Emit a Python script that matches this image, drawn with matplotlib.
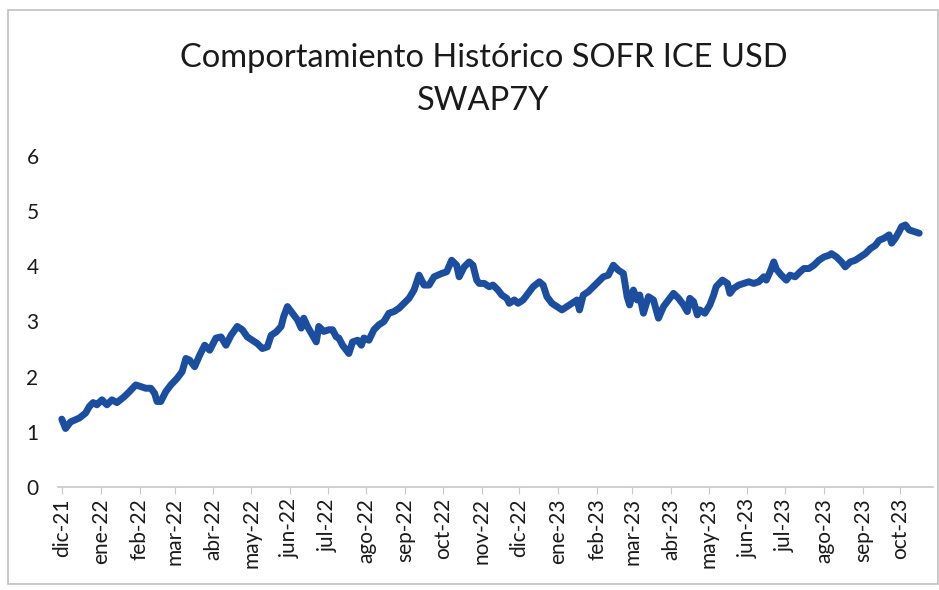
import matplotlib
matplotlib.use("Agg")
import matplotlib.pyplot as plt
import pandas as pd

plt.rcParams['font.family'] = ['Lato', 'DejaVu Sans']

# Valores (fecha, tasa %)
fechas = [
    "2021-12-01", "2021-12-04", "2021-12-08", "2021-12-15", "2021-12-20", "2021-12-23",
    "2021-12-26", "2021-12-29", "2022-01-02", "2022-01-06", "2022-01-10", "2022-01-14",
    "2022-01-20", "2022-01-24", "2022-01-29", "2022-02-02", "2022-02-06", "2022-02-10",
    "2022-02-13", "2022-02-15", "2022-02-18", "2022-02-22", "2022-02-26", "2022-03-03",
    "2022-03-07", "2022-03-10", "2022-03-13", "2022-03-17", "2022-03-21", "2022-03-25",
    "2022-03-29", "2022-04-03", "2022-04-07", "2022-04-11", "2022-04-15", "2022-04-20",
    "2022-04-24", "2022-04-28", "2022-05-02", "2022-05-06", "2022-05-10", "2022-05-14",
    "2022-05-17", "2022-05-21", "2022-05-25", "2022-05-27", "2022-05-30", "2022-06-03",
    "2022-06-07", "2022-06-10", "2022-06-12", "2022-06-15", "2022-06-19", "2022-06-22",
    "2022-06-24", "2022-06-28", "2022-07-02", "2022-07-05", "2022-07-08", "2022-07-10",
    "2022-07-13", "2022-07-16", "2022-07-18", "2022-07-21", "2022-07-25", "2022-07-28",
    "2022-07-30", "2022-08-03", "2022-08-07", "2022-08-11", "2022-08-15", "2022-08-19",
    "2022-08-23", "2022-08-27", "2022-08-31", "2022-09-04", "2022-09-08", "2022-09-12",
    "2022-09-16", "2022-09-20", "2022-09-24", "2022-09-30", "2022-10-04", "2022-10-08",
    "2022-10-12", "2022-10-14", "2022-10-18", "2022-10-22", "2022-10-25", "2022-10-28",
    "2022-10-30", "2022-11-03", "2022-11-07", "2022-11-10", "2022-11-14", "2022-11-17",
    "2022-11-21", "2022-11-23", "2022-11-27", "2022-11-30", "2022-12-04", "2022-12-08",
    "2022-12-12", "2022-12-17", "2022-12-20", "2022-12-23", "2022-12-27", "2022-12-31",
    "2023-01-04", "2023-01-08", "2023-01-12", "2023-01-16", "2023-01-18", "2023-01-21",
    "2023-01-25", "2023-01-29", "2023-02-02", "2023-02-06", "2023-02-10", "2023-02-14",
    "2023-02-18", "2023-02-22", "2023-02-25", "2023-02-27", "2023-03-02", "2023-03-05",
    "2023-03-07", "2023-03-10", "2023-03-14", "2023-03-18", "2023-03-22", "2023-03-26",
    "2023-03-30", "2023-04-03", "2023-04-07", "2023-04-11", "2023-04-14", "2023-04-16",
    "2023-04-19", "2023-04-22", "2023-04-24", "2023-04-28", "2023-05-02", "2023-05-05",
    "2023-05-07", "2023-05-12", "2023-05-16", "2023-05-18", "2023-05-21", "2023-05-25",
    "2023-05-29", "2023-06-02", "2023-06-06", "2023-06-10", "2023-06-14", "2023-06-16",
    "2023-06-19", "2023-06-22", "2023-06-24", "2023-06-28", "2023-07-02", "2023-07-05",
    "2023-07-09", "2023-07-13", "2023-07-16", "2023-07-20", "2023-07-24", "2023-07-28",
    "2023-08-01", "2023-08-05", "2023-08-07", "2023-08-11", "2023-08-15", "2023-08-18",
    "2023-08-22", "2023-08-26", "2023-08-30", "2023-09-03", "2023-09-07", "2023-09-11",
    "2023-09-14", "2023-09-18", "2023-09-22", "2023-09-24", "2023-09-27", "2023-09-30",
    "2023-10-02", "2023-10-05", "2023-10-08", "2023-10-12", "2023-10-16",
]
swap7y = [
    1.23, 1.06, 1.18, 1.25, 1.34, 1.46,
    1.53, 1.49, 1.58, 1.49, 1.58, 1.53,
    1.64, 1.73, 1.85, 1.82, 1.79, 1.79,
    1.70, 1.55, 1.55, 1.73, 1.85, 1.97,
    2.09, 2.33, 2.30, 2.18, 2.39, 2.57,
    2.48, 2.70, 2.72, 2.57, 2.75, 2.91,
    2.85, 2.72, 2.66, 2.60, 2.51, 2.54,
    2.75, 2.81, 2.91, 3.09, 3.27, 3.15,
    3.03, 2.88, 3.06, 2.91, 2.75, 2.63,
    2.91, 2.82, 2.85, 2.85, 2.72, 2.70,
    2.57, 2.48, 2.42, 2.63, 2.66, 2.57,
    2.70, 2.66, 2.85, 2.94, 3.00, 3.15,
    3.18, 3.24, 3.33, 3.42, 3.57, 3.84,
    3.66, 3.66, 3.81, 3.87, 3.90, 4.11,
    4.02, 3.81, 3.99, 4.08, 4.02, 3.75,
    3.69, 3.69, 3.63, 3.66, 3.57, 3.48,
    3.42, 3.33, 3.39, 3.33, 3.39, 3.51,
    3.63, 3.72, 3.66, 3.45, 3.33, 3.27,
    3.21, 3.27, 3.33, 3.39, 3.21, 3.48,
    3.54, 3.63, 3.72, 3.81, 3.84, 4.02,
    3.93, 3.87, 3.45, 3.30, 3.57, 3.39,
    3.48, 3.15, 3.45, 3.39, 3.06, 3.27,
    3.39, 3.51, 3.42, 3.30, 3.18, 3.42,
    3.36, 3.12, 3.21, 3.15, 3.30, 3.48,
    3.63, 3.75, 3.69, 3.51, 3.60, 3.66,
    3.69, 3.72, 3.69, 3.72, 3.81, 3.75,
    3.90, 4.08, 3.95, 3.84, 3.75, 3.84,
    3.81, 3.90, 3.96, 3.96, 4.02, 4.11,
    4.17, 4.20, 4.23, 4.17, 4.08, 3.99,
    4.08, 4.11, 4.17, 4.23, 4.32, 4.38,
    4.47, 4.51, 4.57, 4.42, 4.51, 4.63,
    4.72, 4.75, 4.66, 4.63, 4.60,
]

meses = ["dic-21", "ene-22", "feb-22", "mar-22", "abr-22", "may-22", "jun-22",
         "jul-22", "ago-22", "sep-22", "oct-22", "nov-22", "dic-22", "ene-23",
         "feb-23", "mar-23", "abr-23", "may-23", "jun-23", "jul-23", "ago-23",
         "sep-23", "oct-23"]
inicio_meses = pd.date_range("2021-12-01", periods=len(meses), freq="MS")

fechas = pd.to_datetime(fechas)

fig = plt.figure(figsize=(9.39, 5.90), dpi=100)
ax = fig.add_axes([0.0618, 0.1746, 0.9318, 0.561])

ax.plot(fechas, swap7y, color="#1C4E9F", linewidth=5, solid_joinstyle="round",
        solid_capstyle="round")

ax.set_ylim(0, 6)
ax.set_yticks(range(0, 7))
ax.set_xlim(pd.Timestamp("2021-11-28"), pd.Timestamp("2023-10-27"))
ax.set_xticks(inicio_meses)
ax.set_xticklabels(meses, rotation=90, fontsize=15, color="#1a1a1a")
ax.tick_params(axis="y", length=0, labelsize=15, pad=14, labelcolor="#1a1a1a")
ax.tick_params(axis="x", length=5, color="#c8c8c8", pad=3)

for lado in ["top", "right", "left"]:
    ax.spines[lado].set_visible(False)
ax.spines["bottom"].set_color("#c8c8c8")
ax.spines["bottom"].set_linewidth(1.2)

fig.text(0.515, 0.902, "Comportamiento Histórico SOFR ICE USD", ha="center", va="center",
         fontsize=23.5, color="#1a1a1a")
fig.text(0.515, 0.828, "SWAP7Y", ha="center", va="center", fontsize=23.5, color="#1a1a1a")

# borde del grafico
borde = plt.Rectangle((0.009, 0.01), 0.99, 0.973, transform=fig.transFigure,
                      fill=False, edgecolor="#c0c0c0", linewidth=1.2)
fig.patches.append(borde)

fig.savefig("out.png", dpi=100)
